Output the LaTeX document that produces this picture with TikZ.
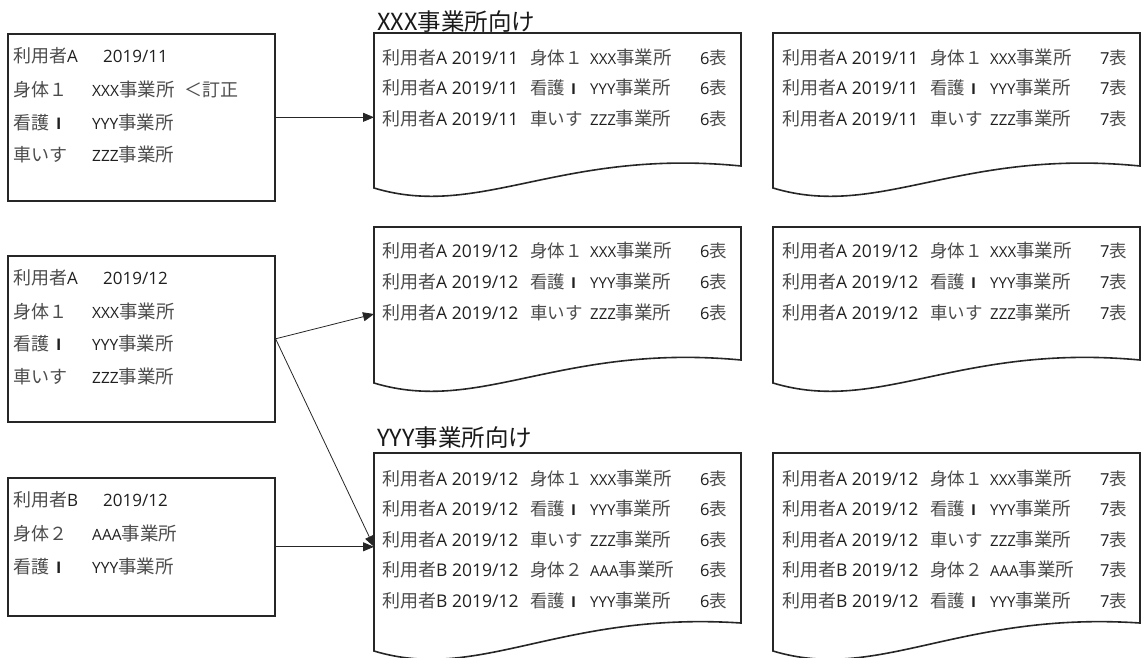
\documentclass[tikz,border=0pt]{standalone}
\usepackage{fontspec}
\setmainfont{Open Sans}
\newfontfamily\jp{Noto Sans CJK JP}
\usetikzlibrary{arrows.meta}
\definecolor{cjkgray}{gray}{0.30}
\definecolor{latdark}{gray}{0.12}
\newcommand\Cs[2]{{\jp\fontsize{#1}{#1}\selectfont\color{cjkgray}#2}}
\newcommand\Ls[2]{{\fontsize{#1}{#1}\selectfont\color{latdark}#2}}
% services in documents
\newcommand\svcA{\Cs{17.5}{身体１}}
\newcommand\svcB{\Cs{17.5}{看護}\hspace{6pt}\Ls{15}{\bfseries I}}
\newcommand\svcC{\Cs{17.5}{車いす}}
\newcommand\svcD{\Cs{17.5}{身体２}}
% services in input boxes
\newcommand\bsvcA{\Cs{18}{身体１}}
\newcommand\bsvcB{\Cs{18}{看護}\hspace{7pt}\Ls{16}{\bfseries I}}
\newcommand\bsvcC{\Cs{18}{車いす}}
\newcommand\bsvcD{\Cs{18}{身体２}}
\newcommand\Drow[5]{\makebox[148pt][l]{\Cs{18}{利用者}\Ls{17.5}{#1 #2}}\makebox[60pt][l]{#3}\makebox[110pt][l]{\Ls{15}{#4}\Cs{18.5}{事業所}}\Ls{16.5}{#5}\Cs{17.5}{表}}
\newcommand\Bhead[2]{\makebox[90pt][l]{\Cs{18}{利用者}\Ls{17}{#1}}\Ls{17}{#2}}
\newcommand\Brow[2]{\makebox[79pt][l]{#1}\Ls{15.5}{#2}\Cs{18.5}{事業所}}
\newcommand\docshape[5]{%
  \node[inner sep=0pt, outer sep=0pt, minimum width=367pt, minimum height={#4-#3}, anchor=north west] (#1) at (#2,#3) {};
  \draw[docline] (#2,#4) -- (#2,#3) -- ({#2+367},#3) -- ({#2+367},#5)
    .. controls ({#2+186},{#4-40}) and ({#2+106},{#4+32}) .. (#2,#4) -- cycle;}
\tikzset{
  box/.style={draw=black!85, line width=1.6pt, inner sep=0pt, anchor=north west, minimum width=267pt},
  docline/.style={draw=black!85, line width=1.6pt, line join=miter},
  rowtxt/.style={anchor=west, inner sep=0pt},
  headtxt/.style={anchor=west, inner sep=0pt, font=\jp\fontsize{23.5}{26}\selectfont, text=black!90},
  conn/.style={draw=black!85, line width=0.8pt, -{Triangle[length=11pt,width=9pt]}}
}
\begin{document}
\begin{tikzpicture}[x=1pt,y=-1pt]
\useasboundingbox (0,0) rectangle (1147,657);
% input boxes
\node[box, minimum height=167pt] (box1) at (7,33) {};
\node[rowtxt] (b1r1) at (13,56) {\Bhead{A}{2019/11}};
\node[rowtxt] (b1r2) at (13,89) {\Brow{\bsvcA}{XXX}\hspace{10pt}\Cs{18}{＜訂正}};
\node[rowtxt] (b1r3) at (13,122) {\Brow{\bsvcB}{YYY}};
\node[rowtxt] (b1r4) at (13,154) {\Brow{\bsvcC}{ZZZ}};

\node[box, minimum height=166pt] (box2) at (7,255) {};
\node[rowtxt] (b2r1) at (13,278) {\Bhead{A}{2019/12}};
\node[rowtxt] (b2r2) at (13,311) {\Brow{\bsvcA}{XXX}};
\node[rowtxt] (b2r3) at (13,343) {\Brow{\bsvcB}{YYY}};
\node[rowtxt] (b2r4) at (13,376) {\Brow{\bsvcC}{ZZZ}};

\node[box, minimum height=138pt] (box3) at (7,477) {};
\node[rowtxt] (b3r1) at (13,500) {\Bhead{B}{2019/12}};
\node[rowtxt] (b3r2) at (13,533) {\Brow{\bsvcD}{AAA}};
\node[rowtxt] (b3r3) at (13,566) {\Brow{\bsvcB}{YYY}};

% headings
\node[headtxt] (h1) at (377,22) {XXX事業所向け};
\node[headtxt] (h2) at (377,438) {YYY事業所向け};

% documents
\docshape{doc1}{374}{33}{188}{166}
\docshape{doc2}{374}{227}{383}{360}
\docshape{doc3}{374}{453}{651}{623}
\docshape{doc4}{773}{33}{188}{166}
\docshape{doc5}{773}{227}{383}{360}
\docshape{doc6}{773}{453}{651}{623}

% rows doc1 / doc4
\node[rowtxt] (r11) at (382,57) {\Drow{A}{2019/11}{\svcA}{XXX}{6}};
\node[rowtxt] (r12) at (382,87.5) {\Drow{A}{2019/11}{\svcB}{YYY}{6}};
\node[rowtxt] (r13) at (382,118) {\Drow{A}{2019/11}{\svcC}{ZZZ}{6}};
\node[rowtxt] (r41) at (782,57) {\Drow{A}{2019/11}{\svcA}{XXX}{7}};
\node[rowtxt] (r42) at (782,87.5) {\Drow{A}{2019/11}{\svcB}{YYY}{7}};
\node[rowtxt] (r43) at (782,118) {\Drow{A}{2019/11}{\svcC}{ZZZ}{7}};
% rows doc2 / doc5
\node[rowtxt] (r21) at (382,250) {\Drow{A}{2019/12}{\svcA}{XXX}{6}};
\node[rowtxt] (r22) at (382,281) {\Drow{A}{2019/12}{\svcB}{YYY}{6}};
\node[rowtxt] (r23) at (382,312) {\Drow{A}{2019/12}{\svcC}{ZZZ}{6}};
\node[rowtxt] (r51) at (782,250) {\Drow{A}{2019/12}{\svcA}{XXX}{7}};
\node[rowtxt] (r52) at (782,281) {\Drow{A}{2019/12}{\svcB}{YYY}{7}};
\node[rowtxt] (r53) at (782,312) {\Drow{A}{2019/12}{\svcC}{ZZZ}{7}};
% rows doc3 / doc6
\node[rowtxt] (r31) at (382,478) {\Drow{A}{2019/12}{\svcA}{XXX}{6}};
\node[rowtxt] (r32) at (382,508.5) {\Drow{A}{2019/12}{\svcB}{YYY}{6}};
\node[rowtxt] (r33) at (382,539) {\Drow{A}{2019/12}{\svcC}{ZZZ}{6}};
\node[rowtxt] (r34) at (382,569.5) {\Drow{B}{2019/12}{\svcD}{AAA}{6}};
\node[rowtxt] (r35) at (382,600) {\Drow{B}{2019/12}{\svcB}{YYY}{6}};
\node[rowtxt] (r61) at (782,478) {\Drow{A}{2019/12}{\svcA}{XXX}{7}};
\node[rowtxt] (r62) at (782,508.5) {\Drow{A}{2019/12}{\svcB}{YYY}{7}};
\node[rowtxt] (r63) at (782,539) {\Drow{A}{2019/12}{\svcC}{ZZZ}{7}};
\node[rowtxt] (r64) at (782,569.5) {\Drow{B}{2019/12}{\svcD}{AAA}{7}};
\node[rowtxt] (r65) at (782,600) {\Drow{B}{2019/12}{\svcB}{YYY}{7}};

% connectors
\coordinate (t1) at (doc1.west |- box1.east);
\coordinate (t2) at ([yshift=-2pt]doc2.west |- r23.west);
\coordinate (t3) at (doc3.west |- box3.east);
\draw[conn] (box1.east) -- (t1);
\draw[conn] (box2.east) -- (t2);
\draw[conn] (box2.east) -- (t3);
\draw[conn] (box3.east) -- (t3);
\end{tikzpicture}
\end{document}
